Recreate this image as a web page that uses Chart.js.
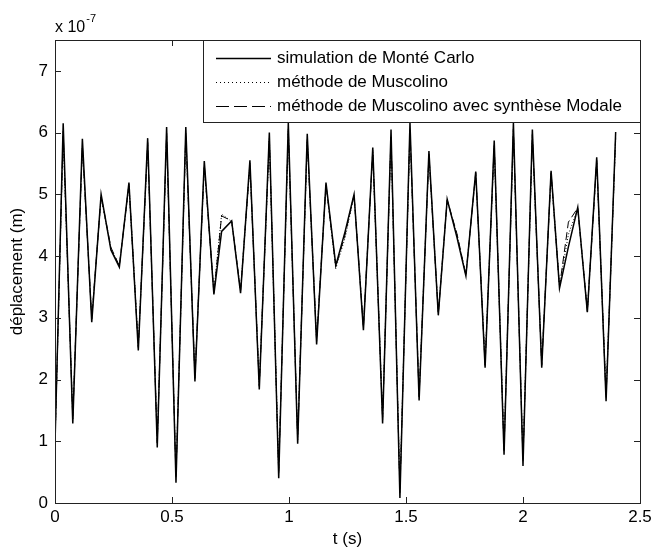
<!DOCTYPE html>
<html>
<head>
<meta charset="utf-8">
<script src="https://cdn.jsdelivr.net/npm/chart.js@4"></script>
<style>
html,body{margin:0;padding:0;background:#fff;}
#wrap{width:666px;height:553px;}
</style>
</head>
<body>
<div id="wrap"><canvas id="c" width="666" height="553"></canvas></div>
<script>
// time (s)
const t = [0.000, 0.035, 0.076, 0.117, 0.157, 0.197, 0.239, 0.275, 0.316, 0.356, 0.396, 0.437, 0.477, 0.517, 0.559, 0.598, 0.638, 0.679, 0.712, 0.755, 0.793, 0.833, 0.873, 0.916, 0.956, 0.997, 1.037, 1.078, 1.118, 1.158, 1.200, 1.240, 1.278, 1.318, 1.358, 1.400, 1.436, 1.474, 1.517, 1.556, 1.598, 1.638, 1.676, 1.718, 1.756, 1.798, 1.838, 1.877, 1.919, 1.959, 2.000, 2.040, 2.080, 2.120, 2.156, 2.194, 2.234, 2.275, 2.315, 2.355, 2.396];
// displacement, in units of 1e-7 m
const monteCarlo = [0.95, 6.15, 1.29, 5.90, 2.93, 5.00, 4.10, 3.82, 5.19, 2.47, 5.91, 0.90, 6.09, 0.33, 6.09, 1.97, 5.54, 3.38, 4.40, 4.57, 3.40, 5.55, 1.84, 6.00, 0.40, 6.16, 0.96, 5.98, 2.57, 5.19, 3.85, 4.40, 5.00, 2.80, 5.76, 1.29, 6.05, 0.08, 6.16, 1.66, 5.70, 3.04, 4.92, 4.30, 3.68, 5.37, 2.19, 5.87, 0.78, 6.16, 0.60, 6.05, 2.19, 5.38, 3.48, 4.15, 4.79, 3.09, 5.60, 1.65, 6.01];
const muscolino = [0.95, 5.95, 1.40, 5.75, 3.00, 4.95, 4.12, 3.85, 5.15, 2.55, 5.80, 1.00, 5.95, 0.45, 5.95, 2.05, 5.45, 3.42, 4.68, 4.56, 3.45, 5.48, 1.92, 5.88, 0.52, 6.02, 1.05, 5.86, 2.65, 5.15, 3.80, 4.30, 4.98, 2.86, 5.68, 1.38, 5.92, 0.22, 6.02, 1.75, 5.62, 3.08, 4.90, 4.34, 3.70, 5.33, 2.26, 5.78, 0.88, 6.02, 0.72, 5.93, 2.26, 5.33, 3.52, 4.35, 4.77, 3.12, 5.52, 1.74, 5.90];
const muscolinoModal = [0.95, 6.02, 1.36, 5.80, 2.98, 4.97, 4.14, 3.84, 5.16, 2.52, 5.84, 0.97, 5.99, 0.41, 5.99, 2.02, 5.48, 3.40, 4.65, 4.57, 3.43, 5.50, 1.89, 5.92, 0.48, 6.06, 1.02, 5.90, 2.62, 5.16, 3.83, 4.35, 4.99, 2.84, 5.71, 1.35, 5.96, 0.17, 6.06, 1.72, 5.65, 3.06, 4.91, 4.36, 3.69, 5.35, 2.23, 5.81, 0.85, 6.06, 0.68, 5.97, 2.23, 5.35, 3.50, 4.55, 4.78, 3.10, 5.55, 1.71, 5.94];
const seriesLabels = ['simulation de Monté Carlo', 'méthode de Muscolino', 'méthode de Muscolino avec synthèse Modale'];
const xTicks = [0, 0.5, 1, 1.5, 2, 2.5];
const xTickLabels = ['0', '0.5', '1', '1.5', '2', '2.5'];
const yTicks = [0, 1, 2, 3, 4, 5, 6, 7];
const yTickLabels = ['0', '1', '2', '3', '4', '5', '6', '7'];
const xTitle = 't (s)';
const yTitle = 'déplacement (m)';
const expBase = 'x 10';
const expPow = '-7';

const FONT = '"Liberation Sans", Arial, sans-serif';
const FS = 17;
const pts = arr => arr.map((v, i) => ({x: t[i], y: v}));

const matlabPlugin = {
  id: 'matlab',
  afterDatasetsDraw(chart) {
    const ctx = chart.ctx;
    const a = chart.chartArea;
    const xs = chart.scales.x, ys = chart.scales.y;
    ctx.save();
    ctx.strokeStyle = '#222';
    ctx.lineWidth = 1;
    // box
    ctx.strokeRect(Math.round(a.left) + 0.5, Math.round(a.top) + 0.5, Math.round(a.right - a.left), Math.round(a.bottom - a.top));
    // inward ticks
    const TL = 6;
    ctx.beginPath();
    xTicks.forEach(v => {
      const px = Math.round(xs.getPixelForValue(v)) + 0.5;
      ctx.moveTo(px, a.bottom); ctx.lineTo(px, a.bottom - TL);
      ctx.moveTo(px, a.top); ctx.lineTo(px, a.top + TL);
    });
    yTicks.forEach(v => {
      const py = Math.round(ys.getPixelForValue(v)) + 0.5;
      ctx.moveTo(a.left, py); ctx.lineTo(a.left + TL, py);
      ctx.moveTo(a.right, py); ctx.lineTo(a.right - TL, py);
    });
    ctx.stroke();

    // legend
    const lx0 = 203.5, ly0 = Math.round(a.top) + 0.5, lx1 = Math.round(a.right) + 0.5, ly1 = 122.5;
    ctx.fillStyle = '#fff';
    ctx.fillRect(lx0, ly0, lx1 - lx0, ly1 - ly0);
    ctx.strokeStyle = '#222';
    ctx.strokeRect(lx0, ly0, lx1 - lx0, ly1 - ly0);
    const rows = [58, 82, 106];
    chart.data.datasets.forEach((ds, i) => {
      const y = rows[i] + 0.5;
      ctx.save();
      ctx.strokeStyle = '#000';
      ctx.lineWidth = ds.borderWidth;
      ctx.setLineDash(ds.legendDash || []);
      ctx.beginPath();
      ctx.moveTo(216, y); ctx.lineTo(271, y);
      ctx.stroke();
      ctx.restore();
      ctx.fillStyle = '#000';
      ctx.font = FS + 'px ' + FONT;
      ctx.textBaseline = 'middle';
      ctx.textAlign = 'left';
      ctx.fillText(ds.label, 277, rows[i]);
    });

    // exponent label
    ctx.fillStyle = '#000';
    ctx.textAlign = 'left';
    ctx.textBaseline = 'alphabetic';
    ctx.font = '16px ' + FONT;
    ctx.fillText(expBase, a.left, 32);
    const w = ctx.measureText(expBase).width;
    ctx.font = '11px ' + FONT;
    ctx.fillText(expPow, a.left + w + 1, 22);
    ctx.restore();
  }
};

new Chart(document.getElementById('c'), {
  type: 'line',
  data: {
    datasets: [
      {label: seriesLabels[0], data: pts(monteCarlo), borderColor: '#000', borderWidth: 1.5, borderDash: [], legendDash: [], pointRadius: 0, tension: 0, fill: false},
      {label: seriesLabels[1], data: pts(muscolino), borderColor: '#000', borderWidth: 1, borderDash: [1, 2], legendDash: [1, 3], pointRadius: 0, tension: 0, fill: false},
      {label: seriesLabels[2], data: pts(muscolinoModal), borderColor: '#000', borderWidth: 1, borderDash: [8, 4], legendDash: [13, 5], pointRadius: 0, tension: 0, fill: false}
    ]
  },
  options: {
    responsive: false,
    animation: false,
    events: [],
    layout: {padding: {left: 0, top: 40, right: 26, bottom: 0}},
    plugins: {legend: {display: false}, tooltip: {enabled: false}, title: {display: false}},
    scales: {
      x: {
        type: 'linear', min: 0, max: 2.5,
        grid: {display: false, drawTicks: false},
        border: {display: false},
        afterBuildTicks: s => { s.ticks = xTicks.map(v => ({value: v})); },
        afterFit: s => { s.height = 50; },
        ticks: {
          color: '#000', padding: 4, maxRotation: 0, autoSkip: false,
          font: {family: FONT, size: FS},
          callback: (v) => { const i = xTicks.indexOf(v); return i >= 0 ? xTickLabels[i] : ''; }
        },
        title: {display: true, text: xTitle, color: '#000', font: {family: FONT, size: FS}, padding: {top: 0, bottom: 3}}
      },
      y: {
        type: 'linear', min: 0, max: 7.5,
        grid: {display: false, drawTicks: false},
        border: {display: false},
        afterBuildTicks: s => { s.ticks = yTicks.map(v => ({value: v})); },
        afterFit: s => { s.width = 55; },
        ticks: {
          color: '#000', padding: 7, autoSkip: false,
          font: {family: FONT, size: FS},
          callback: (v) => { const i = yTicks.indexOf(v); return i >= 0 ? yTickLabels[i] : ''; }
        },
        title: {display: true, text: yTitle, color: '#000', font: {family: FONT, size: FS}, padding: {top: 7, bottom: 0}}
      }
    }
  },
  plugins: [matlabPlugin]
});
</script>
</body>
</html>
